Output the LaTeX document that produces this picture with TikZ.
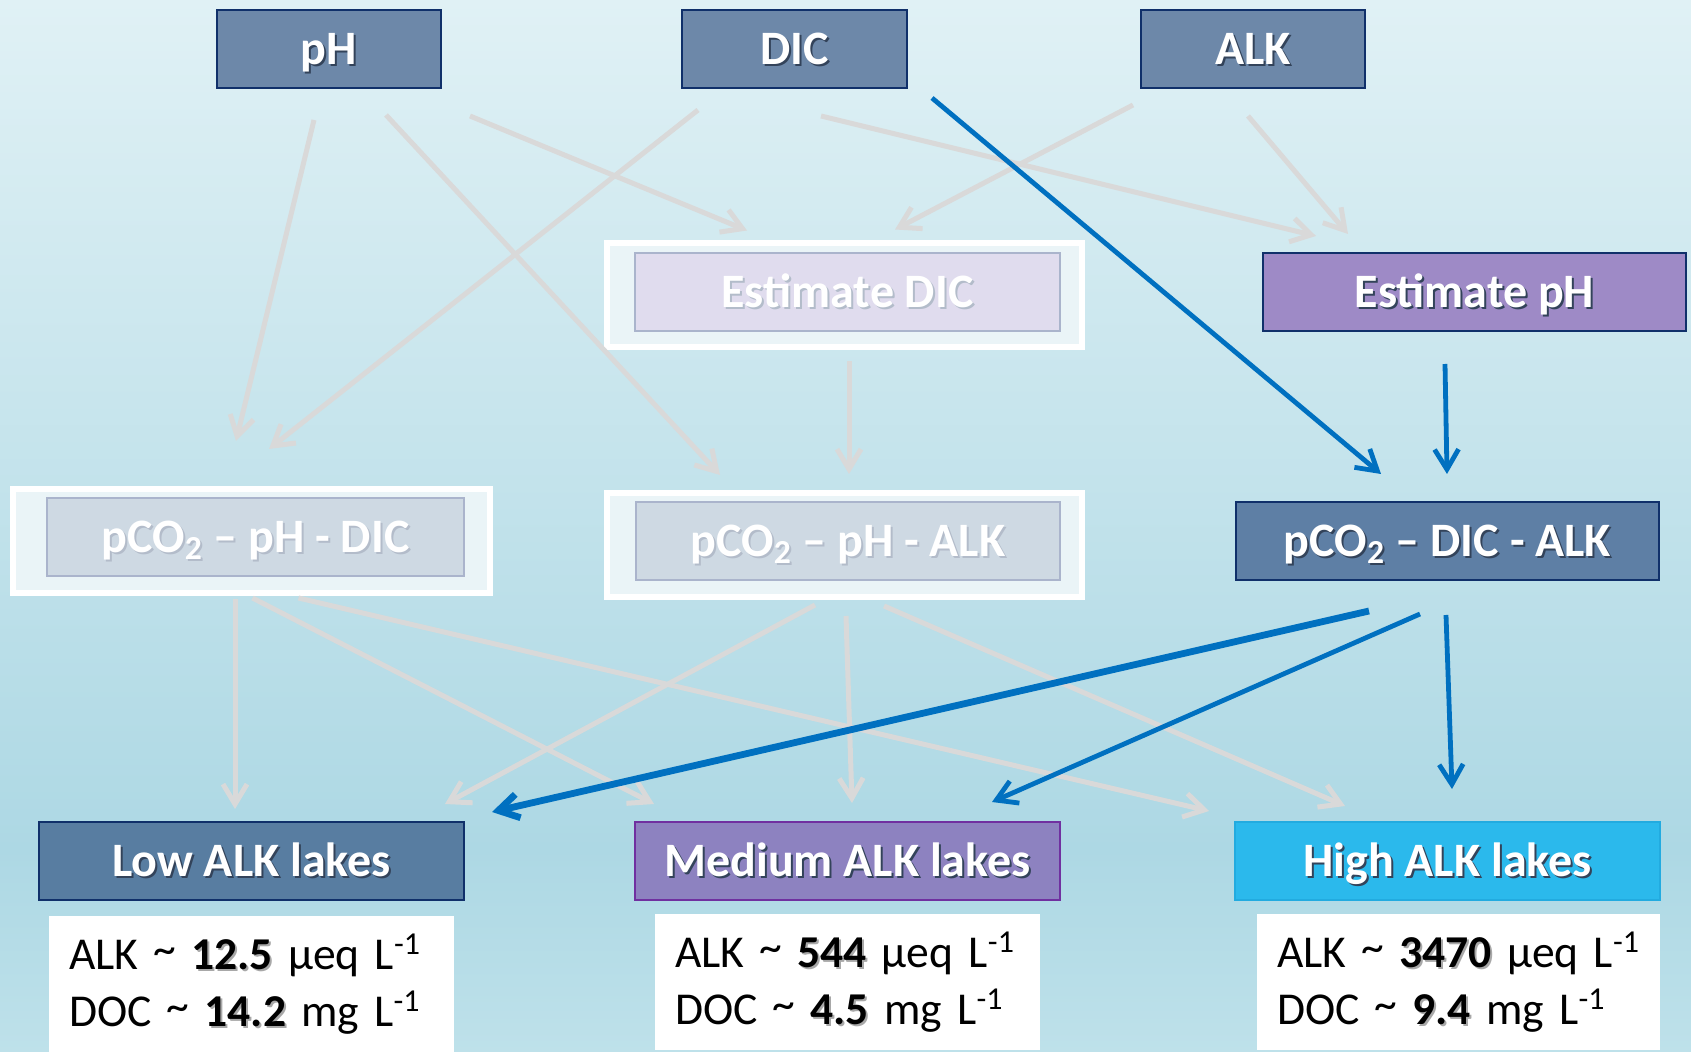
\documentclass[tikz,border=0pt]{standalone}
\usepackage{fontspec}
\setmainfont{Carlito}
\usetikzlibrary{arrows.meta}
\definecolor{bgtop}{HTML}{E0F1F5}
\definecolor{bgmid}{HTML}{ADD8E4}
\definecolor{bgbot}{HTML}{BEE1EA}
\definecolor{topfill}{HTML}{6D88A9}
\definecolor{navy}{HTML}{10306A}
\definecolor{estphfill}{HTML}{9E8AC6}
\definecolor{dicalkfill}{HTML}{5E7FA5}
\definecolor{lowfill}{HTML}{587DA1}
\definecolor{medfill}{HTML}{8D82C0}
\definecolor{medline}{HTML}{7030A0}
\definecolor{highfill}{HTML}{2BB9EC}
\definecolor{highline}{HTML}{22ABE0}
\definecolor{fadeA}{HTML}{E0DCEE}
\definecolor{fadeB}{HTML}{CED9E3}
\definecolor{fadeline}{HTML}{AAB4CC}
\definecolor{framefill}{HTML}{EAF4F7}
\definecolor{grayarrow}{HTML}{D9D9D9}
\definecolor{bluearrow}{HTML}{0070C0}
\definecolor{shdark}{HTML}{33435A}
\definecolor{shfade}{HTML}{B3BCCA}
\definecolor{shgray}{HTML}{A8A8A8}
\newcommand{\shd}[2]{\makebox[0pt][l]{\hspace{1pt}\raisebox{-1pt}{\textcolor{#1}{#2}}}#2}
\newcommand{\tld}{\raisebox{0.1em}{\textasciitilde}}
\tikzset{
  lbl/.style={draw=navy, line width=1pt, inner sep=0pt, text=white,
    font=\fontsize{24}{28}\selectfont\bfseries, minimum height=39pt,
    text height=20pt, text depth=4.5pt},
  fadebox/.style={lbl, draw=fadeline},
  framebox/.style={draw=white, line width=3pt, fill=framefill, inner sep=0pt,
    minimum width=237.5pt, minimum height=52pt},
  info/.style={fill=white, inner xsep=10pt, inner ysep=0pt, text=black,
    font=\fontsize{22.8}{28.5}\selectfont, align=left, minimum height=68pt},
  grayarr/.style={draw=grayarrow, line width=2.5pt, line join=round,
    -{Straight Barb[length=10pt,width=12pt]}},
  bluearr/.style={draw=bluearrow, line width=2.4pt, line join=round,
    -{Straight Barb[length=10pt,width=12pt]}},
  bluethick/.style={bluearr, line width=3.4pt}
}
\begin{document}
\begin{tikzpicture}[x=0.5pt, y=-0.5pt]
\useasboundingbox (0,0) rectangle (1691,1052);
\shade[top color=bgtop, bottom color=bgmid] (0,0) rectangle (1691,850);
\shade[top color=bgmid, bottom color=bgbot] (0,849) rectangle (1691,1052);

% top row
\node[lbl, fill=topfill, minimum width=112pt] (ph) at (329,49) {\shd{shdark}{pH}};
\node[lbl, fill=topfill, minimum width=112.5pt] (dic) at (794.5,49) {\shd{shdark}{DIC}};
\node[lbl, fill=topfill, minimum width=112pt] (alk) at (1253,49) {\shd{shdark}{ALK}};

% estimate row
\node[framebox] (estdicframe) at (844.5,295) {};
\node[fadebox, fill=fadeA, minimum width=212.5pt] (estdic) at (847.5,292.5) {\shd{shfade}{Estimate DIC}};
\node[lbl, fill=estphfill, minimum width=211.5pt] (estph) at (1474.5,292) {\shd{shdark}{Estimate pH}};

% pCO2 row
\node[framebox, minimum width=238.5pt] (pphdicframe) at (251.5,541) {};
\node[fadebox, fill=fadeB, minimum width=208.5pt] (pphdic) at (255.5,537) {\shd{shfade}{pCO\textsubscript{2} – pH - DIC}};
\node[framebox] (pphalkframe) at (844.5,545) {};
\node[fadebox, fill=fadeB, minimum width=212pt] (pphalk) at (848,541) {\shd{shfade}{pCO\textsubscript{2} – pH - ALK}};
\node[lbl, fill=dicalkfill, minimum width=211.5pt] (pdicalk) at (1447.5,541) {\shd{shdark}{pCO\textsubscript{2} – DIC - ALK}};

% lakes row
\node[lbl, fill=lowfill, minimum width=212.5pt] (low) at (251.5,861) {\shd{shdark}{Low ALK lakes}};
\node[lbl, draw=medline, fill=medfill, minimum width=212.5pt] (med) at (847.5,861) {\shd{shdark}{Medium ALK lakes}};
\node[lbl, draw=highline, fill=highfill, minimum width=212.5pt] (high) at (1447.5,861) {\shd{shdark}{High ALK lakes}};

% info boxes
\node[info, text width=182.5pt] (lowinfo) at (251.5,984) {\mbox{ALK \tld{} \shd{shgray}{\textbf{12.5}} µeq L\textsuperscript{-1}}\\\mbox{DOC \tld{} \shd{shgray}{\textbf{14.2}} mg L\textsuperscript{-1}}};
\node[info, text width=172.5pt] (medinfo) at (847.5,982) {\mbox{ALK \tld{} \shd{shgray}{\textbf{544}} µeq L\textsuperscript{-1}}\\\mbox{DOC \tld{} \shd{shgray}{\textbf{4.5}} mg L\textsuperscript{-1}}};
\node[info, text width=181.5pt] (highinfo) at (1458.5,982) {\mbox{ALK \tld{} \shd{shgray}{\textbf{3470}} µeq L\textsuperscript{-1}}\\\mbox{DOC \tld{} \shd{shgray}{\textbf{9.4}} mg L\textsuperscript{-1}}};

% gray connectors
\draw[grayarr] ([shift={(-15,31)}]ph.south) -- ([shift={(-19.5,-56)}]pphdic.north);
\draw[grayarr] ([shift={(57,26)}]ph.south) -- ([shift={(-128,-26)}]pphalk.north);
\draw[grayarr] ([shift={(141,27)}]ph.south) -- ([shift={(-100.5,-22)}]estdic.north);
\draw[grayarr] ([shift={(-96.5,21)}]dic.south) -- ([shift={(13.5,-48)}]pphdic.north);
\draw[grayarr] ([shift={(26.5,27)}]dic.south) -- ([shift={(-158.5,-16)}]estph.north);
\draw[grayarr] ([shift={(-120,16)}]alk.south) -- ([shift={(47.5,-23)}]estdic.north);
\draw[grayarr] ([shift={(-5,27)}]alk.south) -- ([shift={(-126.5,-18)}]estph.north);
\draw[grayarr] ([shift={(1.5,29)}]estdic.south) -- ([shift={(1,-27)}]pphalk.north);
\draw[grayarr] ([shift={(-20.5,22)}]pphdic.south) -- ([shift={(-16.5,-12)}]low.north);
\draw[grayarr] ([shift={(-3,21)}]pphdic.south) -- ([shift={(-193.5,-17)}]med.north);
\draw[grayarr] ([shift={(43,21)}]pphdic.south) -- ([shift={(-238.5,-10)}]high.north);
\draw[grayarr] ([shift={(-33,24)}]pphalk.south) -- ([shift={(193.5,-17)}]low.north);
\draw[grayarr] ([shift={(-2,35)}]pphalk.south) -- ([shift={(4.5,-18)}]med.north);
\draw[grayarr] ([shift={(36,25)}]pphalk.south) -- ([shift={(-102.5,-15)}]high.north);

% blue connectors
\draw[bluearr] ([shift={(137.5,9)}]dic.south) -- ([shift={(-66.5,-27)}]pdicalk.north);
\draw[bluearr] ([shift={(-29.5,32)}]estph.south) -- ([shift={(-0.5,-27)}]pdicalk.north);
\draw[bluethick] ([shift={(-78.5,30)}]pdicalk.south) -- ([shift={(240.5,-9)}]low.north);
\draw[bluearr] ([shift={(-27.5,33)}]pdicalk.south) -- ([shift={(144.5,-19)}]med.north);
\draw[bluearr] ([shift={(-1.5,34)}]pdicalk.south) -- ([shift={(4.5,-32)}]high.north);
\end{tikzpicture}
\end{document}
